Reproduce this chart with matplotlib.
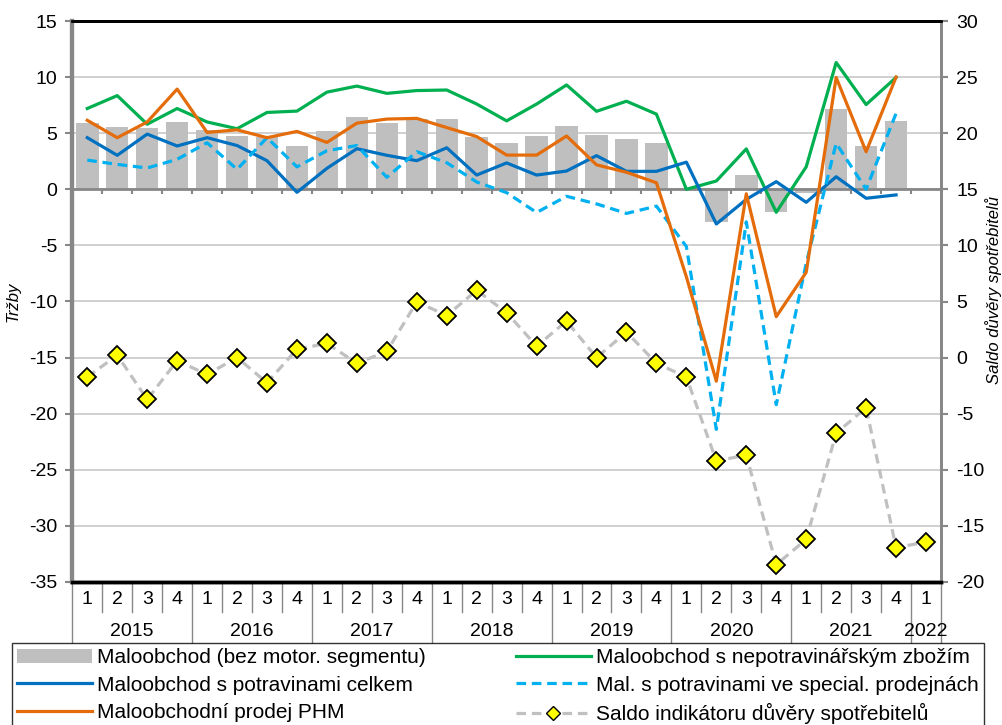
import numpy as np
import matplotlib
matplotlib.use("Agg")
import matplotlib.pyplot as plt
from matplotlib.lines import Line2D
from matplotlib.patches import Patch

plt.rcParams['font.family'] = ['Liberation Sans', 'DejaVu Sans']
plt.rcParams['axes.unicode_minus'] = False

# quarters 2015Q1 .. 2022Q1
years = ["2015", "2016", "2017", "2018", "2019", "2020", "2021", "2022"]
quarters = ["1", "2", "3", "4"] * 7 + ["1"]

# Maloobchod (bez motor. segmentu) - bars
retail_total = [5.9, 5.55, 5.45, 6.0, 5.25, 4.75, 4.7, 3.9, 5.2, 6.45, 5.95, 6.3,
                6.3, 4.65, 4.15, 4.75, 5.6, 4.8, 4.5, 4.15, 0.15, -2.9, 1.27, -2.05,
                -0.3, 7.2, 3.85, 6.1]
# Maloobchod s nepotravinarskym zbozim
non_food = [7.2, 8.35, 5.8, 7.2, 6.0, 5.4, 6.85, 6.97, 8.66, 9.2, 8.55, 8.8,
            8.85, 7.6, 6.1, 7.6, 9.3, 6.95, 7.85, 6.7, 0.0, 0.74, 3.6, -2.05,
            2.0, 11.3, 7.55, 9.97]
# Maloobchod s potravinami celkem
food_total = [4.6, 3.03, 4.92, 3.86, 4.6, 3.9, 2.55, -0.27, 1.87, 3.62, 3.03, 2.55,
              3.7, 1.27, 2.35, 1.27, 1.63, 3.0, 1.6, 1.6, 2.42, -3.09, -0.9, 0.68,
              -1.16, 1.12, -0.8, -0.5]
# Mal. s potravinami ve special. prodejnach
food_special = [2.6, 2.22, 1.9, 2.67, 4.15, 1.78, 4.6, 2.0, 3.44, 3.9, 1.07, 3.35,
                2.37, 0.65, -0.3, -2.07, -0.62, -1.3, -2.15, -1.5, -5.1, -21.4, -2.9, -19.2,
                -6.6, 4.1, 0.0, 6.77]
# Maloobchodni prodej PHM
fuel = [6.15, 4.6, 6.0, 8.93, 5.07, 5.3, 4.6, 5.16, 4.18, 5.9, 6.26, 6.32,
        5.5, 4.7, 3.05, 3.05, 4.75, 2.18, 1.52, 0.58, -7.8, -17.1, -0.4, -11.35,
        -7.4, 9.97, 3.35, 10.0]
# Saldo indikatoru duvery spotrebitelu (right axis)
confidence = [-1.74, 0.22, -3.73, -0.28, -1.5, 0.0, -2.24, 0.75, 1.26, -0.5, 0.55, 4.97,
              3.75, 6.0, 4.0, 1.02, 3.25, 0.0, 2.27, -0.5, -1.74, -9.2, -8.7, -18.45,
              -16.2, -6.73, -4.47, -16.94, -16.43]

GRAY_BAR = "#BFBFBF"
GREEN = "#00B050"
BLUE = "#0070C0"
ORANGE = "#E46C0A"
LBLUE = "#00B0F0"
AXGRAY = "#878787"
DASH = (0, (3, 1.8))

fig = plt.figure(figsize=(10.03, 7.25), dpi=100)
ax = fig.add_axes([72.3 / 1003, 1 - 582 / 725, (941 - 72.3) / 1003, 561 / 725])
ax2 = ax.twinx()

x = np.arange(len(confidence))
xs = np.arange(len(retail_total))

ax.set_ylim(-35, 15)
ax.set_xlim(-0.5, len(confidence) - 0.5)
ax.set_yticks(np.arange(-35, 16, 5))
ax.yaxis.grid(True, color="#C8C8C8", lw=1.2)
ax.set_axisbelow(True)

ax.bar(xs, retail_total, width=0.75, color=GRAY_BAR, zorder=2)
ax.axhline(0, color=AXGRAY, lw=2, zorder=3)
ax.vlines(np.arange(0.5, len(confidence) - 0.5), -0.45, 0, color=AXGRAY, lw=1.5, zorder=3)
ax.plot(xs, non_food, color=GREEN, lw=2.3, zorder=4)
ax.plot(xs, food_total, color=BLUE, lw=2.3, zorder=4)
ax.plot(xs, food_special, color=LBLUE, lw=2.3, ls=DASH, zorder=4)
ax.plot(xs, fuel, color=ORANGE, lw=2.3, zorder=5)

ax2.set_ylim(-20, 30)
ax2.set_yticks(np.arange(-20, 31, 5))
ax2.plot(x, confidence, color="#C0C0C0", lw=2.3, ls=DASH,
         marker="D", markersize=9, markerfacecolor="#FFFF00",
         markeredgecolor="black", markeredgewidth=1.3, zorder=6)

for a in (ax, ax2):
    a.spines['top'].set_color("black")
    a.spines['top'].set_linewidth(2)
    a.spines['bottom'].set_color("black")
    a.spines['bottom'].set_linewidth(2.5)
    a.spines['left'].set_color(AXGRAY)
    a.spines['left'].set_linewidth(3)
    a.spines['right'].set_color(AXGRAY)
    a.spines['right'].set_linewidth(2)
    a.tick_params(axis='y', length=5, width=1.5, color=AXGRAY, labelsize=14, pad=6)
ax.set_xticks([])
ax2.set_xticks([])

ax.set_ylabel("Tržby", fontsize=12, style="italic")
ax.yaxis.set_label_coords(-52 / 868.7, 0.5)
ax2.set_ylabel("Saldo důvěry spotřebitelů", fontsize=12, style="italic", rotation=90)
ax2.yaxis.set_label_coords(1 + 44 / 868.7, 0.52)

# category axis table below the plot
tr = ax.get_xaxis_transform()
axh = 561.0
q_bot = -30 / axh
y_bot = -61 / axh
for b in np.arange(-0.5, len(confidence)):
    idx = b + 0.5
    long_line = (idx % 4 == 0) or idx == len(confidence)
    ax.plot([b, b], [0, y_bot if long_line else q_bot], transform=tr,
            color=AXGRAY, lw=1, clip_on=False)
for i, q in enumerate(quarters):
    ax.text(i, -18 / axh, q, transform=tr, ha="center", va="center", fontsize=14)
for k, yr in enumerate(years):
    start = 4 * k
    end = min(4 * k + 3, len(confidence) - 1)
    ax.text((start + end) / 2, -50 / axh, yr, transform=tr, ha="center",
            va="center", fontsize=14)

handles = [
    Patch(facecolor=GRAY_BAR, edgecolor="none"),
    Line2D([], [], color=BLUE, lw=2.3),
    Line2D([], [], color=ORANGE, lw=2.3),
    Line2D([], [], color=GREEN, lw=2.3),
    Line2D([], [], color=LBLUE, lw=2.3, ls=DASH),
    Line2D([], [], color="#C0C0C0", lw=2.3, ls=DASH, marker="D",
           markersize=7, markerfacecolor="#FFFF00", markeredgecolor="black"),
]
labels = [
    "Maloobchod (bez motor. segmentu)",
    "Maloobchod s potravinami celkem",
    "Maloobchodní prodej PHM",
    "Maloobchod s nepotravinářským zbožím",
    "Mal. s potravinami ve special. prodejnách",
    "Saldo indikátoru důvěry spotřebitelů",
]
leg = fig.legend(handles, labels, ncol=2, loc="upper left",
                 bbox_to_anchor=(12 / 1003, 1 - 643 / 725), fontsize=15,
                 frameon=True, fancybox=False, edgecolor="black",
                 handlelength=3.6, handletextpad=0.25, columnspacing=4.3,
                 labelspacing=0.4, borderpad=0.25, borderaxespad=0)
leg.get_frame().set_linewidth(1)

fig.savefig("out.png", dpi=100)
